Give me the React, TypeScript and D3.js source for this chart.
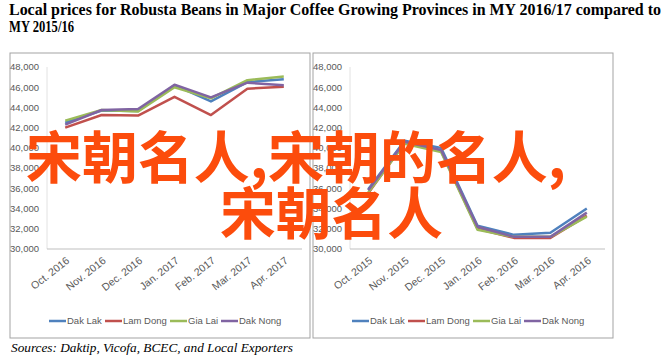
import React from 'react'
import * as d3 from 'd3'

// values (VND/kg)
const monthsNew = ['Oct. 2016', 'Nov. 2016', 'Dec. 2016', 'Jan. 2017', 'Feb. 2017', 'Mar. 2017', 'Apr. 2017']
const monthsOld = ['Oct. 2015', 'Nov. 2015', 'Dec. 2015', 'Jan. 2016', 'Feb. 2016', 'Mar. 2016', 'Apr. 2016']
const provinces = ['Dak Lak', 'Lam Dong', 'Gia Lai', 'Dak Nong']
const colors = ['#4f81bd', '#c0504d', '#9bbb59', '#8064a2']
const yTicks = [30000, 32000, 34000, 36000, 38000, 40000, 42000, 44000, 46000, 48000]

const dakLakNew = [42500, 43700, 43650, 46200, 44600, 46500, 46800]
const lamDongNew = [42000, 43250, 43200, 45050, 43250, 45850, 46050]
const giaLaiNew = [42700, 43750, 43600, 46000, 44900, 46700, 47050]
const dakNongNew = [42300, 43750, 43850, 46250, 45000, 46450, 46200]

const dakLakOld = [35900, 40700, 40000, 32300, 31400, 31600, 34000]
const lamDongOld = [35500, 40500, 39700, 32000, 31100, 31100, 33300]
const giaLaiOld = [35600, 40400, 39600, 31900, 31200, 31200, 33200]
const dakNongOld = [35800, 40600, 39800, 32200, 31200, 31200, 33600]

const W = 665
const H = 359
const axisFont = "'Liberation Sans Narrow', 'Arial Narrow', 'Liberation Sans', sans-serif"

const Panel = ({ px, months, series }) => {
  const left = px + 37
  const right = px + 292
  const x = d3.scaleBand().domain(months).range([left, right])
  const y = d3.scaleLinear().domain([30000, 48000]).range([249, 67])
  const line = d3
    .line()
    .x((d, i) => x(months[i]) + x.bandwidth() / 2)
    .y((d) => y(d))
  const legendX = [39, 95, 160, 211]

  return (
    <g>
      <rect x={px} y={53} width={300} height={285} fill='#fff' stroke='#a3a3a3' strokeWidth={1} />
      <line x1={left} x2={left} y1={y(48000)} y2={y(30000)} stroke='#e2e2e2' />
      <line x1={left} x2={right} y1={y(30000)} y2={y(30000)} stroke='#bfbfbf' />
      {yTicks.map((t) => (
        <text key={t} x={left - 8} y={y(t)} dy='0.35em' textAnchor='end' fontSize={9.5} fill='#595959' fontFamily={axisFont}>
          {d3.format(',')(t)}
        </text>
      ))}
      {months.map((m) => (
        <text
          key={m}
          transform={`translate(${x(m) + x.bandwidth() / 2 + 5},${262}) rotate(-38)`}
          textAnchor='end'
          fontSize={10.5}
          fill='#595959'
          fontFamily={axisFont}
        >
          {m}
        </text>
      ))}
      {series.map((s, i) => (
        <path key={i} d={line(s)} fill='none' stroke={colors[i]} strokeWidth={2.5} strokeLinejoin='round' />
      ))}
      {provinces.map((p, i) => (
        <g key={p}>
          <line x1={px + legendX[i]} x2={px + legendX[i] + 17} y1={321} y2={321} stroke={colors[i]} strokeWidth={2.5} />
          <text x={px + legendX[i] + 18} y={321} dy='0.35em' fontSize={9.5} fill='#595959' fontFamily={axisFont}>
            {p}
          </text>
        </g>
      ))}
    </g>
  )
}

export default function App() {
  return (
    <svg width={W} height={H} style={{ position: 'absolute', left: 0, top: 0, background: '#fff' }}>
      <g fontFamily="'Liberation Serif', 'Times New Roman', serif" fontWeight='bold' fontSize={17} fill='#000'>
        <text x={9} y={15} textLength={652} lengthAdjust='spacingAndGlyphs'>
          Local prices for Robusta Beans in Major Coffee Growing Provinces in MY 2016/17 compared to
        </text>
        <text x={9} y={32} textLength={65} lengthAdjust='spacingAndGlyphs'>
          MY 2015/16
        </text>
      </g>
      <Panel px={10} months={monthsNew} series={[dakLakNew, lamDongNew, giaLaiNew, dakNongNew]} />
      <Panel px={313} months={monthsOld} series={[dakLakOld, lamDongOld, giaLaiOld, dakNongOld]} />
      <text
        x={11}
        y={352}
        fontFamily="'Liberation Serif', 'Times New Roman', serif"
        fontStyle='italic'
        fontSize={13.5}
        textLength={282}
        lengthAdjust='spacingAndGlyphs'
        fill='#000'
      >
        Sources: Daktip, Vicofa, BCEC, and Local Exporters
      </text>
      <g fontFamily="'Noto Sans CJK SC', sans-serif" fontWeight='bold' fontSize={56} fill='#fc4c0c'>
        <text x={26} y={178} textLength={540} lengthAdjust='spacingAndGlyphs'>
          宋朝名人,宋朝的名人,
        </text>
        <text x={220} y={234} textLength={223} lengthAdjust='spacingAndGlyphs'>
          宋朝名人
        </text>
      </g>
    </svg>
  )
}
